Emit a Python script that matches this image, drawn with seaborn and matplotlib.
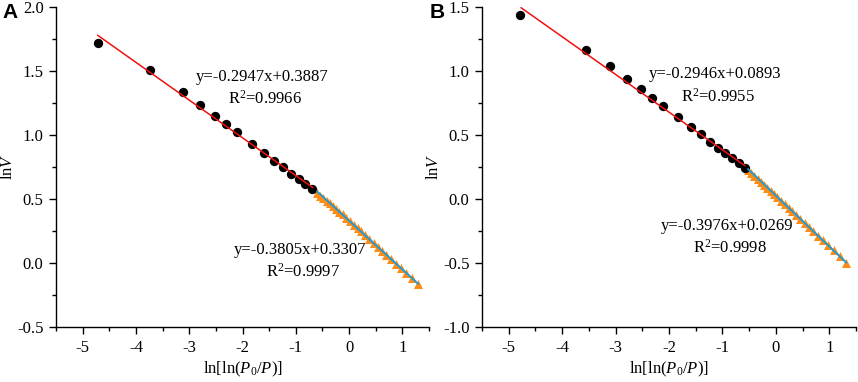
import numpy as np
import pandas as pd
import matplotlib
matplotlib.use("Agg")
import matplotlib.pyplot as plt
from matplotlib.ticker import MultipleLocator
import seaborn as sns

# ---------------- data ----------------
# Panel A
a_dot_x = [-4.72, -3.74, -3.12, -2.79, -2.525, -2.31, -2.106, -1.83, -1.60, -1.406,
           -1.2375, -1.0875, -0.944, -0.825, -0.70]
a_dot_y = [1.720, 1.508, 1.333, 1.231, 1.151, 1.085, 1.020, 0.931, 0.861, 0.798,
           0.749, 0.699, 0.655, 0.618, 0.577]
a_tri_x = [-0.60, -0.54, -0.48, -0.42, -0.36, -0.30, -0.24, -0.18, -0.12, -0.05,
           0.02, 0.09, 0.16, 0.23, 0.30, 0.38, 0.46, 0.54, 0.62, 0.70,
           0.79, 0.88, 0.97, 1.07, 1.18, 1.29]
a_tri_y = [0.548, 0.527, 0.506, 0.486, 0.466, 0.444, 0.423, 0.401, 0.379, 0.353,
           0.327, 0.300, 0.274, 0.247, 0.220, 0.189, 0.158, 0.127, 0.096, 0.065,
           0.030, -0.004, -0.039, -0.077, -0.119, -0.162]
a_fit1 = (-0.2947, 0.3887)
a_fit2 = (-0.3805, 0.3307)
a_line1_x = [-4.72, -0.68]
a_line2_x = [-0.60, 1.30]
a_labels = ["y=-0.2947x+0.3887", "R$^2$=0.9966", "y=-0.3805x+0.3307", "R$^2$=0.9997"]

# Panel B
b_dot_x = [-4.79, -3.5625, -3.11, -2.78, -2.52, -2.31, -2.106, -1.825, -1.594, -1.406,
           -1.231, -1.081, -0.944, -0.819, -0.694, -0.581]
b_dot_y = [1.435, 1.164, 1.038, 0.934, 0.856, 0.790, 0.725, 0.637, 0.564, 0.504,
           0.449, 0.402, 0.360, 0.318, 0.279, 0.243]
b_tri_x = [-0.52, -0.46, -0.40, -0.34, -0.28, -0.22, -0.16, -0.10, -0.04, 0.03,
           0.10, 0.17, 0.24, 0.31, 0.38, 0.46, 0.54, 0.62, 0.70, 0.79,
           0.88, 0.97, 1.08, 1.20, 1.32]
b_tri_y = [0.226, 0.203, 0.180, 0.157, 0.134, 0.111, 0.089, 0.066, 0.042, 0.015,
           -0.012, -0.040, -0.068, -0.095, -0.123, -0.155, -0.187, -0.219, -0.250, -0.286,
           -0.322, -0.358, -0.401, -0.449, -0.498]
b_fit1 = (-0.2946, 0.0893)
b_fit2 = (-0.3976, 0.0269)
b_line1_x = [-4.77, -0.58]
b_line2_x = [-0.52, 1.32]
b_labels = ["y=-0.2946x+0.0893", "R$^2$=0.9955", "y=-0.3976x+0.0269", "R$^2$=0.9998"]

x_ticks = [-5, -4, -3, -2, -1, 0, 1]

# ---------------- style ----------------
sns.set_theme(style="ticks")
plt.rcParams['font.family'] = ['Liberation Serif', 'DejaVu Serif']
plt.rcParams['mathtext.fontset'] = 'custom'
plt.rcParams['mathtext.rm'] = 'Liberation Serif'
plt.rcParams['mathtext.it'] = 'Liberation Serif:italic'
plt.rcParams['mathtext.bf'] = 'Liberation Serif:bold'
plt.rcParams['text.color'] = 'black'
plt.rcParams['axes.labelcolor'] = 'black'
plt.rcParams['xtick.color'] = 'black'
plt.rcParams['ytick.color'] = 'black'

RED = '#F01010'
BLUE = '#1E9BD7'
ORANGE = '#FF8A14'

fig = plt.figure(figsize=(8.58, 3.82), dpi=100)
axA = fig.add_axes([56/858, 55/382, 373/858, 320/382])
axB = fig.add_axes([482/858, 55/382, 374/858, 320/382])


def draw(ax, dx, dy, tx, ty, fit1, fit2, l1x, l2x, labels, ylim, ymajor, label_pos, letter, letter_x):
    sns.scatterplot(x=tx, y=ty, ax=ax, marker='^', color=ORANGE, s=42, linewidth=0, zorder=2)
    sns.scatterplot(x=dx, y=dy, ax=ax, marker='o', color='black', s=45, linewidth=0, zorder=2)
    l1y = [fit1[0] * v + fit1[1] for v in l1x]
    l2y = [fit2[0] * v + fit2[1] for v in l2x]
    sns.lineplot(x=l1x, y=l1y, ax=ax, color=RED, linewidth=1.1, zorder=3)
    sns.lineplot(x=l2x, y=l2y, ax=ax, color=BLUE, linewidth=1.4, zorder=3)
    ax.set_xlim(-5.5, 1.5)
    ax.set_ylim(*ylim)
    ax.set_xticks(x_ticks)
    ax.set_xticklabels([str(t) for t in x_ticks])
    ax.xaxis.set_minor_locator(MultipleLocator(0.5))
    ax.yaxis.set_major_locator(MultipleLocator(ymajor))
    ax.yaxis.set_minor_locator(MultipleLocator(ymajor / 2))
    ax.yaxis.set_major_formatter(matplotlib.ticker.FormatStrFormatter('%.1f'))
    ax.tick_params(which='major', direction='out', length=5, width=1, labelsize=12, pad=4, color='black')
    ax.tick_params(which='minor', direction='out', length=3, width=1, color='black')
    for s in ['top', 'right']:
        ax.spines[s].set_visible(False)
    for s in ['left', 'bottom']:
        ax.spines[s].set_linewidth(1.0)
        ax.spines[s].set_color('black')
    ax.set_xlabel('ln[ln($P_0$/$P$)]', fontsize=12, labelpad=3)
    ax.set_ylabel('ln$V$', fontsize=12, labelpad=1)
    for lab, (px, py) in zip(labels, label_pos):
        ax.text(px, py, lab, ha='center', va='center', fontsize=12, color='black')
    fig.text(letter_x, 1 - 12/382, letter, fontsize=15, fontweight='bold', color='black',
             family=['Liberation Sans', 'DejaVu Sans'], ha='left', va='center')


draw(axA, a_dot_x, a_dot_y, a_tri_x, a_tri_y, a_fit1, a_fit2, a_line1_x, a_line2_x,
     a_labels, (-0.5, 2.0), 0.5,
     [(-1.625, 1.45), (-1.57, 1.28), (-0.925, 0.104), (-0.86, -0.07)], 'A', 2/858)
draw(axB, b_dot_x, b_dot_y, b_tri_x, b_tri_y, b_fit1, b_fit2, b_line1_x, b_line2_x,
     b_labels, (-1.0, 1.5), 0.5,
     [(-1.144, 0.976), (-1.09, 0.798), (-0.906, -0.209), (-0.856, -0.378)], 'B', 430/858)

fig.savefig('out.png', dpi=100)
